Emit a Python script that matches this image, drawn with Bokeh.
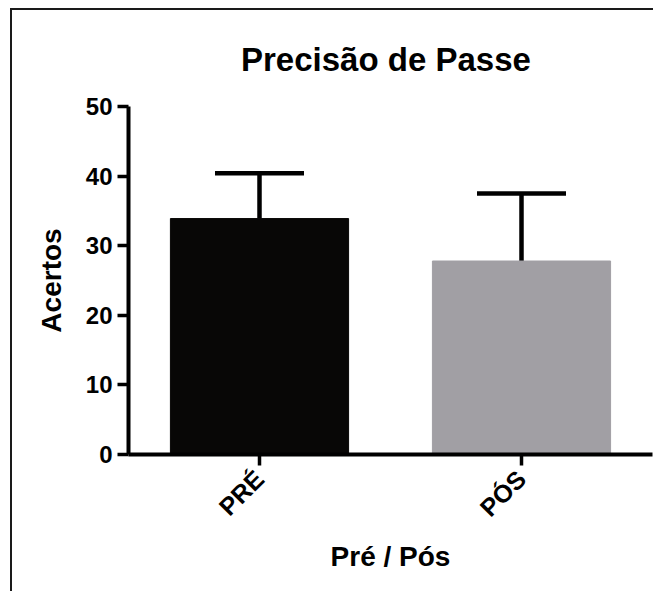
import math
from bokeh.plotting import figure
from bokeh.models import FactorRange, Range1d, FixedTicker, Whisker, ColumnDataSource, TeeHead
from bokeh.embed import file_html
from bokeh.resources import INLINE

# ---- data ----
categories = ["PRÉ", "PÓS"]
means = [33.9, 27.8]
sds = [6.5, 9.7]
bar_colors = ["#080706", "#a19fa4"]
y_ticks = [0, 10, 20, 30, 40, 50]
title_text = "Precisão de  Passe"
x_label = "Pré / Pós"
y_label = "Acertos"

FONT = "Liberation Sans"

src = ColumnDataSource(dict(
    cat=categories,
    mean=means,
    upper=[m + s for m, s in zip(means, sds)],
    color=bar_colors,
))

p = figure(
    x_range=FactorRange(*categories, range_padding=0),
    y_range=Range1d(0, 50),
    frame_width=524, frame_height=348,
    min_border_left=116, min_border_right=1,
    min_border_top=96, min_border_bottom=137,
    output_backend="svg", toolbar_location=None,
    title=title_text,
)

p.vbar(x="cat", top="mean", bottom=0, width=0.68, color="color", source=src)

w = Whisker(base="cat", upper="upper", lower="mean", dimension="height", source=src,
            line_color="black", line_width=4.5,
            upper_head=TeeHead(size=89, line_width=4.5, line_color="black"),
            lower_head=None)
p.add_layout(w)

# title
p.title.align = "center"
p.title.text_font = FONT
p.title.text_font_size = "33px"
p.title.text_font_style = "bold"
p.title.text_color = "black"
p.title.standoff = 57

# axes
for ax in (p.xaxis[0], p.yaxis[0]):
    ax.axis_line_width = 4
    ax.axis_line_color = "black"
    ax.major_tick_line_width = 3.5
    ax.major_tick_line_color = "black"
    ax.major_tick_out = 11
    ax.major_tick_in = 0
    ax.minor_tick_line_color = None
    ax.major_label_text_font = FONT
    ax.major_label_text_font_style = "bold"
    ax.major_label_text_color = "black"
    ax.axis_label_text_font = FONT
    ax.axis_label_text_font_style = "bold"
    ax.axis_label_text_font_size = "28px"
    ax.axis_label_text_color = "black"

p.yaxis.major_label_text_font_size = "24px"
p.xaxis.major_label_text_font_size = "25px"

p.yaxis.ticker = FixedTicker(ticks=y_ticks)
p.yaxis.axis_label = y_label
p.yaxis.major_label_standoff = 5
p.yaxis.axis_label_standoff = 16

p.xaxis.axis_label = x_label
p.xaxis.major_label_orientation = math.pi / 4
p.xaxis.major_label_standoff = 9
p.xaxis.axis_label_standoff = 6

p.xgrid.grid_line_color = None
p.ygrid.grid_line_color = None
p.outline_line_color = None
p.background_fill_color = "white"
p.border_fill_color = "white"

p.styles = {
    "border-left": "2px solid #1a1a1a",
    "border-top": "2px solid #1a1a1a",
    "margin-left": "10px",
    "margin-top": "8px",
    "margin-bottom": "-30px",
}

open("out.html", "w").write(file_html(p, INLINE))
